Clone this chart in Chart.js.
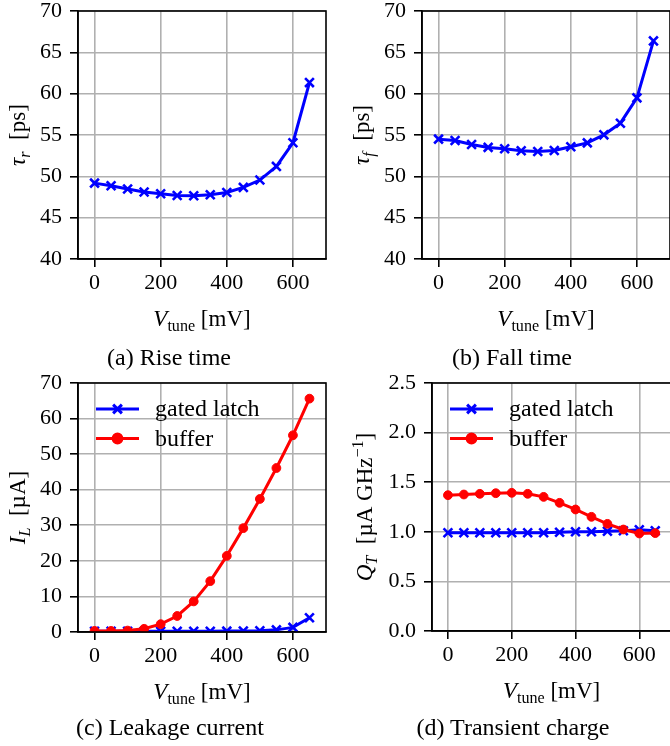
<!DOCTYPE html>
<html>
<head>
<meta charset="utf-8">
<script src="https://cdn.jsdelivr.net/npm/chart.js@4.4.1/dist/chart.umd.min.js"></script>
<style>
html, body { margin:0; padding:0; background:#fff; overflow:hidden; width:670px; height:746px; }
canvas { position:absolute; }
.cap { position:absolute; font-family:'Liberation Serif', 'Times New Roman', serif; font-size:24px; line-height:24px; color:#000; white-space:nowrap; transform:translateX(-50%); }
</style>
</head>
<body>
<canvas id="chartRise" width="335" height="373" style="left:0;top:0"></canvas>
<canvas id="chartFall" width="345" height="373" style="left:335px;top:0"></canvas>
<canvas id="chartLeak" width="335" height="373" style="left:0;top:373px"></canvas>
<canvas id="chartCharge" width="345" height="373" style="left:335px;top:373px"></canvas>
<div class="cap" style="left:169px;top:345px">(a) Rise time</div>
<div class="cap" style="left:512px;top:345px">(b) Fall time</div>
<div class="cap" style="left:170px;top:715px">(c) Leakage current</div>
<div class="cap" style="left:513px;top:715px">(d) Transient charge</div>
<script>
// data
const vTune = [0, 50, 100, 150, 200, 250, 300, 350, 400, 450, 500, 550, 600, 650];
const xTicks = [0, 200, 400, 600];

const riseTime = [49.18, 48.86, 48.46, 48.1, 47.89, 47.69, 47.65, 47.77, 48.05, 48.66, 49.55, 51.2, 54.06, 61.34];
const fallTime = [54.5, 54.34, 53.85, 53.5, 53.33, 53.09, 53.0, 53.13, 53.57, 54.05, 55.02, 56.43, 59.49, 66.38];
const tauTicks = [40, 45, 50, 55, 60, 65, 70];

const leakLatch = [0.2, 0.2, 0.2, 0.2, 0.2, 0.2, 0.2, 0.2, 0.25, 0.3, 0.35, 0.6, 1.3, 4.0];
const leakBuffer = [0.3, 0.3, 0.4, 0.9, 2.2, 4.5, 8.6, 14.3, 21.4, 29.2, 37.4, 46.1, 55.3, 65.6];
const leakTicks = [0, 10, 20, 30, 40, 50, 60, 70];

const chargeLatch = [0.99, 0.99, 0.99, 0.99, 0.99, 0.99, 0.99, 0.995, 1.0, 1.0, 1.005, 1.01, 1.02, 1.01];
const chargeBuffer = [1.369, 1.376, 1.383, 1.389, 1.393, 1.383, 1.352, 1.292, 1.225, 1.151, 1.08, 1.023, 0.983, 0.987];
const chargeTicks = [0, 0.5, 1.0, 1.5, 2.0, 2.5];

const serif = "'Liberation Serif', 'Times New Roman', serif";
const blue = '#0000ff';
const red = '#ff0000';

// text with italic / sub / superscript parts: style i = italic, s = sub, u = sup
function drawRich(ctx, parts, x, y, size, rotate) {
  ctx.save();
  ctx.translate(x, y);
  if (rotate) ctx.rotate(-Math.PI / 2);
  ctx.fillStyle = '#000';
  ctx.textBaseline = 'alphabetic';
  ctx.textAlign = 'left';
  let fonts = parts.map(p => {
    let st = p[1] || '';
    let sz = (st.includes('s') || st.includes('u')) ? size * 0.7 : size;
    return (st.includes('i') ? 'italic ' : '') + sz + 'px ' + serif;
  });
  let total = 0;
  let widths = parts.map((p, i) => { ctx.font = fonts[i]; let w = ctx.measureText(p[0]).width; total += w; return w; });
  let cx = -total / 2;
  let base = size * 0.33;
  parts.forEach((p, i) => {
    let st = p[1] || '';
    let dy = st.includes('s') ? size * 0.22 : (st.includes('u') ? -size * 0.38 : 0);
    ctx.font = fonts[i];
    ctx.fillText(p[0], cx, base + dy);
    cx += widths[i];
  });
  ctx.restore();
}

const frame = {
  id: 'frame',
  afterDatasetsDraw(chart) {
    let a = chart.chartArea, ctx = chart.ctx;
    ctx.save();
    ctx.strokeStyle = '#000';
    ctx.lineWidth = 1.6;
    ctx.strokeRect(a.left, a.top, a.right - a.left, a.bottom - a.top);
    ctx.restore();
  }
};

const richTitles = {
  id: 'richTitles',
  afterDraw(chart, args, opts) {
    let a = chart.chartArea, ctx = chart.ctx;
    drawRich(ctx, opts.x, (a.left + a.right) / 2, a.bottom + 59, 23, false);
    drawRich(ctx, opts.y, opts.yX, (a.top + a.bottom) / 2, 23, true);
  }
};

const lineLegend = {
  id: 'lineLegend',
  afterDatasetsDraw(chart, args, opts) {
    if (!opts.show) return;
    let a = chart.chartArea, ctx = chart.ctx;
    chart.data.datasets.forEach((ds, i) => {
      let y = a.top + 26 + i * 29.5;
      ctx.save();
      ctx.strokeStyle = ds.borderColor;
      ctx.fillStyle = ds.backgroundColor;
      ctx.lineWidth = ds.borderWidth;
      ctx.beginPath();
      ctx.moveTo(a.left + 18, y);
      ctx.lineTo(a.left + 61, y);
      ctx.stroke();
      Chart.helpers.drawPoint(ctx, { pointStyle: ds.pointStyle, radius: ds.pointRadius, borderWidth: ds.pointBorderWidth, rotation: 0 }, a.left + 39.5, y);
      ctx.fillStyle = '#000';
      ctx.font = '24px ' + serif;
      ctx.textBaseline = 'middle';
      ctx.fillText(ds.label, a.left + 77, y + 1);
      ctx.restore();
    });
  }
};

function zeroPad(sc) {
  sc.paddingTop = 0; sc.paddingBottom = 0; sc.paddingLeft = 0; sc.paddingRight = 0;
}

function makeChart(id, cfg) {
  let canvas = document.getElementById(id);
  let cw = canvas.width, ch = canvas.height;
  let box = cfg.box;
  let axisStyle = {
    grid: { color: '#b0b0b0', lineWidth: 1.6, tickColor: '#000', tickLength: 8, tickWidth: 1.6 },
    border: { color: '#000', width: 1.6 },
  };
  return new Chart(canvas, {
    type: 'line',
    data: {
      datasets: cfg.series.map(s => ({
        label: s.label,
        data: vTune.map((v, i) => ({ x: v, y: s.values[i] })),
        borderColor: s.color,
        backgroundColor: s.color,
        borderWidth: 3,
        pointStyle: s.marker,
        pointRadius: s.marker == 'circle' ? 4.4 : 6.2,
        pointBorderWidth: s.marker == 'circle' ? 1 : 2.6,
        tension: 0,
        order: s.order || 0
      }))
    },
    options: {
      responsive: false,
      animation: false,
      devicePixelRatio: 1,
      layout: { padding: { left: 0, top: box.top, right: cw - box.right, bottom: 0 } },
      plugins: {
        legend: { display: false },
        tooltip: { enabled: false },
        richTitles: { x: [['V', 'i'], ['tune', 's'], [' [mV]', '']], y: cfg.yTitle, yX: cfg.yTitleX },
        lineLegend: { show: cfg.series.length > 1 }
      },
      scales: {
        x: Object.assign({
          type: 'linear', min: -50, max: 700,
          afterBuildTicks: ax => { ax.ticks = xTicks.map(v => ({ value: v })); },
          afterFit: sc => { sc.height = ch - box.bottom; zeroPad(sc); },
          ticks: { font: { family: serif, size: 22 }, color: '#000', padding: 3, maxRotation: 0, autoSkip: false }
        }, axisStyle),
        y: Object.assign({
          type: 'linear', min: cfg.yTicks[0], max: cfg.yTicks[cfg.yTicks.length - 1],
          afterBuildTicks: ax => { ax.ticks = cfg.yTicks.map(v => ({ value: v })); },
          afterFit: sc => { sc.width = box.left; zeroPad(sc); },
          ticks: { font: { family: serif, size: 22 }, color: '#000', padding: 8, autoSkip: false,
                   callback: v => cfg.yFmt ? cfg.yFmt(v) : String(v) }
        }, axisStyle)
      }
    },
    plugins: [frame, richTitles, lineLegend]
  });
}

makeChart('chartRise', {
  box: { left: 78, top: 11, right: 326, bottom: 259 },
  series: [{ label: 'rise', values: riseTime, color: blue, marker: 'crossRot' }],
  yTicks: tauTicks,
  yTitle: [['τ', 'i'], ['r', 'is'], ['  [ps]', '']],
  yTitleX: 17
});

makeChart('chartFall', {
  box: { left: 87, top: 11, right: 335, bottom: 259 },
  series: [{ label: 'fall', values: fallTime, color: blue, marker: 'crossRot' }],
  yTicks: tauTicks,
  yTitle: [['τ', 'i'], ['f', 'is'], ['  [ps]', '']],
  yTitleX: 26
});

makeChart('chartLeak', {
  box: { left: 78, top: 10, right: 326, bottom: 259 },
  series: [
    { label: 'gated latch', values: leakLatch, color: blue, marker: 'crossRot', order: 1 },
    { label: 'buffer', values: leakBuffer, color: red, marker: 'circle', order: 0 }
  ],
  yTicks: leakTicks,
  yTitle: [['I', 'i'], ['L', 'is'], ['  [µA]', '']],
  yTitleX: 17
});

makeChart('chartCharge', {
  box: { left: 97, top: 10, right: 339, bottom: 258 },
  series: [
    { label: 'gated latch', values: chargeLatch, color: blue, marker: 'crossRot', order: 1 },
    { label: 'buffer', values: chargeBuffer, color: red, marker: 'circle', order: 0 }
  ],
  yTicks: chargeTicks,
  yFmt: v => v.toFixed(1),
  yTitle: [['Q', 'i'], ['T', 'is'], ['  [µA GHz', ''], ['−1', 'u'], [']', '']],
  yTitleX: 29
});
</script>
</body>
</html>
